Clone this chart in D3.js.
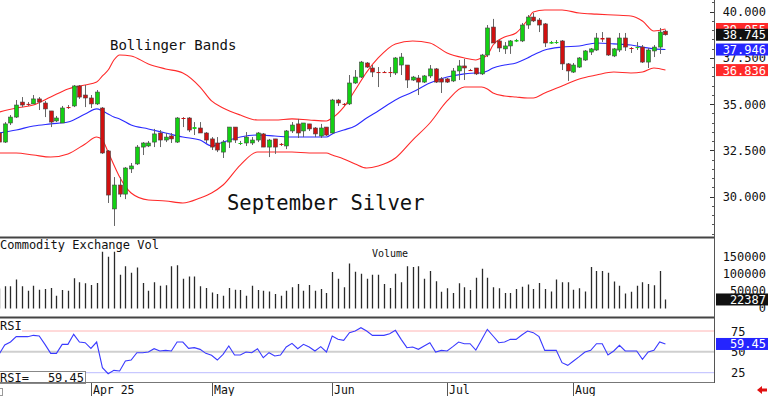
<!DOCTYPE html>
<html><head><meta charset="utf-8">
<script src="https://cdn.jsdelivr.net/npm/d3@7"></script>
<style>
body{margin:0;background:#fff;}
svg{display:block;}
text{font-family:"DejaVu Sans Mono",monospace;fill:#111;}
</style>
</head><body>
<svg id="chart" width="768" height="396"></svg>
<script>
// ---------- DATA ----------
const opens  = [33.44,32.95,33.98,34.30,35.11,35.01,35.01,35.28,35.06,34.63,34.09,33.98,34.84,34.90,35.98,35.49,35.33,35.01,34.79,32.47,29.34,30.63,30.14,31.50,31.77,32.68,32.74,32.95,33.44,33.06,33.28,32.95,34.25,34.25,33.66,33.71,33.44,33.12,32.90,32.41,32.95,33.76,32.87,32.90,32.90,33.06,33.39,32.68,33.12,32.85,32.74,33.55,33.93,33.55,33.93,33.71,33.28,33.76,33.44,35.22,35.01,35.01,36.14,36.46,37.22,36.95,36.73,36.73,36.73,36.68,37.11,37.11,36.30,36.41,36.19,36.52,36.90,36.36,36.36,36.25,36.79,37.06,36.84,36.95,36.63,37.65,39.16,38.41,37.98,38.14,38.38,38.41,39.27,39.70,39.54,39.33,38.27,38.33,38.41,37.17,36.73,37.00,37.38,37.81,37.92,38.57,38.57,37.60,37.92,38.57,38.03,38.06,38.08,37.27,37.87,38.08,38.94];
const highs  = [33.60,34.03,34.41,35.22,35.38,35.11,35.49,35.38,35.17,34.63,34.36,34.90,34.95,36.03,36.03,36.03,35.49,35.76,34.84,32.52,31.06,31.06,31.60,31.82,32.79,32.95,33.01,33.66,33.60,33.44,33.44,34.30,34.30,34.30,34.03,34.03,33.49,33.22,33.22,33.06,33.76,33.76,33.01,33.49,33.22,33.49,33.44,33.12,33.12,32.90,33.60,34.03,34.20,33.98,33.93,33.76,33.93,33.76,35.28,35.28,35.06,36.57,36.84,37.33,37.27,37.11,37.00,36.79,37.00,37.54,37.76,37.11,36.52,36.57,36.57,37.11,36.95,36.46,36.41,36.95,37.38,37.44,36.90,36.95,37.71,39.27,39.60,38.46,38.35,38.46,38.52,39.38,39.81,39.92,39.65,39.38,38.41,38.46,38.46,37.22,37.22,37.54,37.92,38.03,38.84,38.89,38.57,38.03,38.84,38.84,38.08,38.35,38.19,38.03,38.19,39.11,39.02];
const lows   = [32.85,32.90,33.87,34.25,34.84,34.90,35.01,34.68,34.30,33.76,34.03,33.98,34.74,34.84,35.28,34.84,34.79,34.95,32.31,29.66,28.42,29.98,29.87,31.28,31.71,32.25,32.68,32.68,32.68,32.95,32.90,32.90,33.76,33.49,33.33,33.44,32.90,32.52,32.41,32.09,32.63,32.90,32.79,32.74,32.79,32.95,32.68,32.14,32.31,32.74,32.57,33.44,33.17,33.22,33.55,33.22,33.17,33.28,33.39,34.90,34.90,34.95,36.09,36.41,36.95,36.46,35.92,36.68,36.46,36.57,36.57,35.87,36.25,35.49,36.14,36.41,36.14,35.60,36.14,36.19,36.30,36.30,36.79,36.57,36.57,37.54,38.30,37.81,37.71,37.71,38.35,38.35,39.06,39.43,38.89,38.08,38.25,38.25,36.84,36.25,36.68,36.95,37.33,37.65,37.87,38.35,37.60,37.54,37.81,37.87,37.76,37.92,37.22,36.95,37.54,37.71,38.70];
const closes = [32.95,33.93,34.30,34.95,34.95,34.98,35.28,35.11,34.74,34.03,34.25,34.79,34.82,35.98,35.38,35.33,35.01,35.65,32.36,30.09,30.63,30.14,31.55,31.66,32.68,32.90,32.90,33.39,33.06,33.22,33.12,34.25,34.22,33.60,33.76,33.44,33.06,32.68,32.52,32.95,33.76,33.06,32.90,33.22,33.06,33.44,32.68,33.06,32.68,32.82,33.55,33.87,33.44,33.98,33.66,33.39,33.71,33.33,35.22,35.06,34.98,36.14,36.46,37.27,37.00,36.73,36.71,36.71,36.71,37.49,37.54,36.30,36.46,36.19,36.52,36.90,36.19,36.19,36.19,36.79,37.06,36.95,36.81,36.63,37.65,39.11,38.30,38.03,38.14,38.41,38.46,39.27,39.70,39.49,39.27,38.30,38.35,38.35,37.17,36.79,37.11,37.49,37.87,37.98,38.57,38.49,37.65,37.98,38.57,38.08,38.00,38.08,37.27,37.92,38.08,38.89,38.745];
const volumes = [55000,61500,61500,81800,61500,48500,63600,51500,53600,56600,33300,50500,48500,85800,73700,70600,65600,71700,164500,149400,164500,96000,121200,102000,117200,71700,48500,73700,63600,64600,121200,124200,83800,90900,90900,61500,56600,43400,38400,33300,56600,51500,50500,33300,63600,50500,48500,46400,38400,33300,48500,58500,68700,48500,65600,48500,53600,41400,104000,83800,58500,129300,105000,99000,83800,96000,96000,68700,56600,99000,73700,121200,119200,121200,83800,107000,76700,45400,55600,41400,70600,58500,50500,86900,114200,86900,58500,55600,41400,41400,53600,60600,66700,53600,71700,53600,46400,81800,73700,73700,51500,55600,46400,119200,107000,107000,102000,75800,63600,40400,45400,63600,73700,68700,65000,107000,22387];
const rsiValues = [47.0,58.2,61.8,68.2,68.2,68.2,69.8,69.0,59.0,48.2,48.2,59.0,59.0,71.0,61.8,61.0,54.2,61.8,31.0,23.8,27.8,27.0,39.0,40.2,49.0,49.0,49.8,53.8,51.0,51.8,51.0,61.8,61.8,54.2,55.0,53.0,48.2,45.8,40.2,47.0,57.0,46.2,46.2,49.8,49.0,53.8,43.0,49.0,45.0,46.2,55.8,60.2,53.8,59.0,55.8,51.0,56.2,49.8,69.0,65.0,63.8,73.0,75.0,79.0,75.0,69.8,69.8,69.8,71.8,75.8,65.0,55.0,55.8,53.0,57.0,61.0,49.8,51.8,51.0,56.2,61.8,59.8,59.8,52.2,64.6,77.0,69.0,61.0,61.8,65.0,65.0,70.2,75.0,73.0,68.2,51.8,51.8,51.8,37.0,33.8,39.0,44.2,49.8,51.8,59.8,59.8,46.2,51.0,57.8,51.0,51.0,51.0,41.0,49.8,51.8,61.8,59.45];
const bandIdx   = [0,3,6,9,12,15,17,18,19,20,21,23,26,29,32,35,37,39,42,45,48,51,54,57,58,60,62,64,66,69,72,75,78,81,83,84,85,86,88,90,92,93,95,98,101,104,107,110,112,114,116];
const bandUpper = [34.57,34.79,34.95,35.38,35.82,36.03,36.19,36.52,36.84,37.38,37.65,37.60,37.17,36.90,36.68,35.92,35.17,34.79,34.41,34.14,34.14,34.20,34.14,34.09,34.25,34.84,35.76,36.73,37.49,38.25,38.41,38.30,37.76,37.49,37.38,37.49,37.65,38.19,38.62,38.84,39.54,39.97,40.08,40.08,39.92,39.86,39.81,39.76,39.49,38.95,39.055];
const bandMid   = [33.44,33.60,33.82,33.93,34.03,34.47,34.74,34.63,34.47,34.30,34.20,33.87,33.66,33.44,33.22,33.06,32.74,32.95,33.22,33.33,33.28,33.22,33.22,33.22,33.39,33.60,33.82,34.25,34.63,35.22,35.65,36.14,36.46,36.63,36.68,36.68,36.79,36.95,37.11,37.22,37.49,37.65,37.92,38.08,38.14,38.30,38.25,38.19,38.08,37.98,37.946];
const bandLower = [32.36,32.36,32.25,32.14,32.31,32.85,33.22,33.06,32.41,31.71,31.06,30.20,29.82,29.77,29.66,29.93,30.20,30.63,31.71,32.41,32.41,32.41,32.36,32.36,32.25,32.04,31.77,31.55,31.66,32.09,33.06,33.98,35.17,35.92,35.92,35.92,35.82,35.60,35.44,35.38,35.33,35.33,35.60,35.98,36.36,36.57,36.73,36.68,36.73,36.95,36.836];
const priceTicks = [30, 32.5, 35, 37.5, 40];
const volTicks   = [0, 50000, 100000, 150000];
const rsiTicks   = [25, 50, 75];
const monthIdx    = [16, 37, 58, 78, 100];
const monthLabels = ["Apr 25", "May", "Jun", "Jul", "Aug"];

// ---------- LAYOUT ----------
const W = 768, H = 396, plotR = 714;
const svg = d3.select("#chart");
const n = closes.length;
const x = d3.scaleLinear().domain([0, n - 1]).range([-1, -1 + 5.745 * (n - 1)]);
const yP = d3.scaleLinear().domain([30, 40]).range([196.7, 11.5]);
const yV = d3.scaleLinear().domain([0, 150000]).range([307, 256.6]);
const yR = d3.scaleLinear().domain([25, 75]).range([372.7, 331]);

const candles = closes.map((c, i) => ({i, o: opens[i], h: highs[i], l: lows[i], c}));
const bands = bandIdx.map((b, k) => ({i: b, up: bandUpper[k], mid: bandMid[k], lo: bandLower[k]}));

const defs = svg.append("defs");
defs.append("clipPath").attr("id", "cMain").append("rect").attr("x", 0).attr("y", 0).attr("width", plotR).attr("height", 236.5);
defs.append("clipPath").attr("id", "cVol").append("rect").attr("x", 0).attr("y", 238).attr("width", plotR).attr("height", 78.5);
defs.append("clipPath").attr("id", "cRsi").append("rect").attr("x", 0).attr("y", 318.5).attr("width", plotR).attr("height", 64);

// ---------- MAIN PANEL ----------
const gMain = svg.append("g").attr("clip-path", "url(#cMain)");
gMain.append("text").attr("x", 110).attr("y", 50).attr("font-size", "14px").text("Bollinger Bands");
gMain.append("text").attr("x", 227).attr("y", 209.5).attr("font-size", "20.5px").text("September Silver");

const mk = key => d3.line().x(d => x(d.i)).y(d => yP(d[key])).curve(d3.curveMonotoneX);
gMain.append("path").datum(bands).attr("d", mk("up")).attr("fill", "none").attr("stroke", "#ff2a2a").attr("stroke-width", 1.1);
gMain.append("path").datum(bands).attr("d", mk("lo")).attr("fill", "none").attr("stroke", "#ff2a2a").attr("stroke-width", 1.1);
gMain.append("path").datum(bands).attr("d", mk("mid")).attr("fill", "none").attr("stroke", "#2b2bff").attr("stroke-width", 1.1);

const gC = gMain.append("g");
gC.selectAll("line.wick").data(candles).join("line")
  .attr("x1", d => Math.round(x(d.i)) + 0.5).attr("x2", d => Math.round(x(d.i)) + 0.5)
  .attr("y1", d => yP(d.h)).attr("y2", d => yP(d.l))
  .attr("stroke", "#666").attr("stroke-width", 1);
gC.selectAll("rect.body").data(candles).join("rect")
  .attr("x", d => Math.round(x(d.i)) - 1.5).attr("width", 4)
  .attr("y", d => yP(Math.max(d.o, d.c)))
  .attr("height", d => Math.max(1, Math.abs(yP(d.o) - yP(d.c))))
  .attr("fill", d => d.c >= d.o ? "#12d012" : "#d01010")
  .attr("stroke", d => Math.abs(yP(d.o) - yP(d.c)) < 2 ? "none" : "#444")
  .attr("stroke-width", 0.6);

// ---------- VOLUME PANEL ----------
const gVol = svg.append("g").attr("clip-path", "url(#cVol)");
gVol.selectAll("line").data(volumes).join("line")
  .attr("x1", (d, i) => Math.round(x(i)) + 0.5).attr("x2", (d, i) => Math.round(x(i)) + 0.5)
  .attr("y1", 308.5).attr("y2", d => yV(d))
  .attr("stroke", "#2a2a2a").attr("stroke-width", 1.3);
svg.append("text").attr("x", 0).attr("y", 249).attr("font-size", "12px").text("Commodity Exchange Vol");
svg.append("text").attr("x", 372).attr("y", 257).attr("font-size", "10px").text("Volume");

// ---------- RSI PANEL ----------
const gR = svg.append("g").attr("clip-path", "url(#cRsi)");
gR.append("line").attr("x1", 22).attr("x2", plotR).attr("y1", yR(75)).attr("y2", yR(75)).attr("stroke", "#ffb4b4").attr("stroke-width", 1);
gR.append("line").attr("x1", 0).attr("x2", plotR).attr("y1", yR(50)).attr("y2", yR(50)).attr("stroke", "#cfcfcf").attr("stroke-width", 2);
gR.append("line").attr("x1", 86).attr("x2", plotR).attr("y1", yR(25)).attr("y2", yR(25)).attr("stroke", "#bcbcff").attr("stroke-width", 1);
gR.append("path").datum(rsiValues).attr("d", d3.line().x((d, i) => x(i)).y(d => yR(d)))
  .attr("fill", "none").attr("stroke", "#3a3aff").attr("stroke-width", 1.1);
svg.append("rect").attr("x", 0).attr("y", 319).attr("width", 22).attr("height", 12.5).attr("fill", "#fff");
svg.append("text").attr("x", 0).attr("y", 330).attr("font-size", "12px").text("RSI");
svg.append("rect").attr("x", -1.5).attr("y", 371.5).attr("width", 87).attr("height", 12).attr("fill", "#fff").attr("stroke", "#888");
svg.append("text").attr("x", 0).attr("y", 381.5).attr("font-size", "12px").text("RSI=");
svg.append("text").attr("x", 84).attr("y", 381.5).attr("font-size", "12px").attr("text-anchor", "end").text(d3.format(".2f")(rsiValues[n - 1]));

// ---------- FRAMES ----------
svg.append("line").attr("x1", 0).attr("x2", plotR).attr("y1", 237.5).attr("y2", 237.5).attr("stroke", "#444").attr("stroke-width", 2);
svg.append("line").attr("x1", 0).attr("x2", plotR).attr("y1", 317.5).attr("y2", 317.5).attr("stroke", "#444").attr("stroke-width", 2);
svg.append("line").attr("x1", 0).attr("x2", plotR + 1).attr("y1", 382.5).attr("y2", 382.5).attr("stroke", "#777").attr("stroke-width", 1);
svg.append("line").attr("x1", plotR + 0.5).attr("x2", plotR + 0.5).attr("y1", 0).attr("y2", 383).attr("stroke", "#555").attr("stroke-width", 1);

// ---------- RIGHT AXES ----------
const minor = d3.range(28, 41, 0.5).filter(v => yP(v) > 0 && yP(v) < 236);
svg.selectAll("line.minor").data(minor).join("line")
  .attr("x1", plotR - 2).attr("x2", plotR).attr("y1", d => Math.round(yP(d)) + 0.5).attr("y2", d => Math.round(yP(d)) + 0.5)
  .attr("stroke", "#555");
svg.selectAll("line.pt").data(priceTicks).join("line")
  .attr("x1", plotR - 4).attr("x2", plotR).attr("y1", d => Math.round(yP(d)) + 0.5).attr("y2", d => Math.round(yP(d)) + 0.5)
  .attr("stroke", "#333");
svg.selectAll("text.pt").data(priceTicks).join("text")
  .attr("x", 766).attr("y", d => yP(d) + 4.5).attr("text-anchor", "end").attr("font-size", "12px")
  .text(d => d3.format(".3f")(d));
svg.selectAll("text.vt").data(volTicks).join("text")
  .attr("x", 766).attr("y", d => yV(d) + 4.5).attr("text-anchor", "end").attr("font-size", "12px")
  .text(d => d);
svg.selectAll("text.rt").data(rsiTicks).join("text")
  .attr("x", 731).attr("y", d => yR(d) + 4.5).attr("font-size", "12px")
  .text(d => d);

function valueBox(yc, color, label) {
  svg.append("rect").attr("x", 716).attr("y", yc - 6).attr("width", 52).attr("height", 12).attr("fill", color);
  svg.append("text").attr("x", 766).attr("y", yc + 4.5).attr("text-anchor", "end").attr("font-size", "12px")
    .style("fill", "#fff").text(label);
}
const lastB = bands[bands.length - 1];
valueBox(yP(lastB.up), "#ff2a2a", d3.format(".3f")(lastB.up));
valueBox(yP(closes[n - 1]), "#111", d3.format(".3f")(closes[n - 1]));
valueBox(yP(lastB.mid), "#2525ff", d3.format(".3f")(lastB.mid));
valueBox(yP(lastB.lo), "#ff2a2a", d3.format(".3f")(lastB.lo));
valueBox(yV(volumes[n - 1]), "#111", String(volumes[n - 1]));
valueBox(yR(rsiValues[n - 1]), "#2525ff", d3.format(".2f")(rsiValues[n - 1]));

// ---------- X AXIS ----------
svg.selectAll("line.mt").data(monthIdx).join("line")
  .attr("x1", d => Math.round(x(d)) + 0.5).attr("x2", d => Math.round(x(d)) + 0.5)
  .attr("y1", 383).attr("y2", 396).attr("stroke", "#555");
svg.selectAll("text.mt").data(monthIdx).join("text")
  .attr("x", d => Math.round(x(d)) + 2).attr("y", 393.5).attr("font-size", "11.5px")
  .text((d, k) => monthLabels[k]);
svg.append("rect").attr("x", -3.5).attr("y", 388.5).attr("width", 6).attr("height", 7).attr("fill", "none").attr("stroke", "#999");
svg.append("path").attr("d", "M757,390 L762,386 L762,388.5 L767,388.5 L767,391.5 L762,391.5 L762,394 Z").attr("fill", "#e01010");
</script>
</body></html>
